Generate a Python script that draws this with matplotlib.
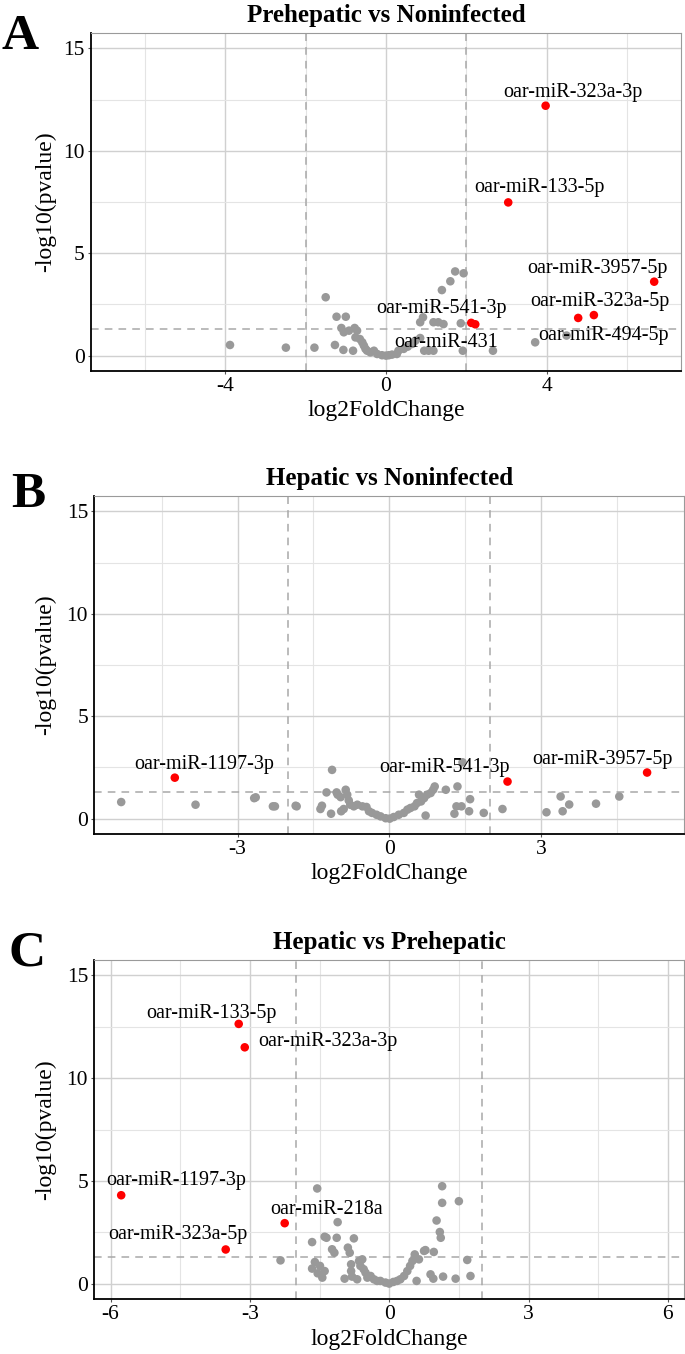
import matplotlib.pyplot as plt
from matplotlib.ticker import MultipleLocator

plt.rcParams['font.family'] = ['Liberation Serif', 'DejaVu Serif']

# ---- panel A: Prehepatic vs Noninfected ----
a_fc = [-3.88, -2.49, -1.78, -1.50, -1.27, -1.23, -1.00, -1.06, -1.11, -1.05,
        -0.92, -0.78, -0.72, -0.82, -0.76, -0.65, -0.59, -0.55, -0.51, -0.47,
        -0.39, -0.30, -0.22, -0.10, 0.00, 0.07, 0.15, 0.27, 0.31, 0.44,
        0.54, 0.65, 0.73, 0.85, 0.85, 0.92, 0.95, 1.06, 1.18, 1.18,
        1.30, 1.43, 1.39, 1.60, 1.72, 1.93, 1.86, 1.91, 2.66, 3.71, 4.49]
a_nlp = [0.52, 0.39, 0.39, 2.85, 0.52, 1.90, 1.90, 0.28, 1.35, 1.14,
         1.22, 1.35, 1.22, 0.24, 0.89, 0.81, 0.65, 0.49, 0.33, 0.24,
         0.16, 0.24, 0.08, 0.02, 0.00, 0.02, 0.05, 0.08, 0.24, 0.33,
         0.44, 0.57, 0.73, 0.86, 1.63, 1.87, 0.24, 0.24, 0.24, 1.63,
         1.63, 1.54, 3.20, 3.63, 4.11, 4.02, 1.58, 0.24, 0.24, 0.65, 0.98]
a_names = ['oar-miR-323a-3p', 'oar-miR-133-5p', 'oar-miR-3957-5p', 'oar-miR-323a-5p',
           'oar-miR-494-5p', 'oar-miR-541-3p', 'oar-miR-431']
a_sig_fc = [3.97, 3.04, 6.67, 5.17, 4.78, 2.12, 2.22]
a_sig_nlp = [12.20, 7.48, 3.61, 1.98, 1.84, 1.60, 1.53]
a_text_at = [(4.64, 12.83), (3.81, 8.20), (5.27, 4.24), (5.32, 2.63),
             (5.42, 0.98), (1.37, 2.29), (1.50, 0.63)]

# ---- panel B: Hepatic vs Noninfected ----
b_fc = [-5.30, -3.83, -2.64, -2.67, -2.30, -2.26, -1.85, -1.83, -1.36, -1.33,
        -1.24, -1.15, -1.13, -1.04, -1.02, -0.96, -0.86, -0.83, -0.95, -0.90,
        -0.80, -0.77, -0.70, -0.63, -0.53, -0.45, -0.40, -0.34, -0.25, -0.17,
        -0.07, 0.01, 0.09, 0.19, 0.29, 0.36, 0.42, 0.50, 0.55, 0.59,
        0.63, 0.69, 0.72, 0.75, 0.82, 0.87, 0.90, 1.12, 1.35, 1.29,
        1.33, 1.43, 1.45, 1.58, 1.60, 1.87, 2.24, 3.11, 3.39, 3.43,
        3.56, 4.09, 4.55]
b_nlp = [0.81, 0.68, 1.04, 1.00, 0.60, 0.60, 0.63, 0.60, 0.47, 0.63,
         1.28, 0.24, 2.38, 1.28, 1.17, 1.05, 1.41, 1.17, 0.36, 0.47,
         0.89, 0.68, 0.60, 0.68, 0.60, 0.57, 0.36, 0.28, 0.19, 0.11,
         0.02, 0.00, 0.08, 0.19, 0.28, 0.44, 0.52, 0.60, 0.76, 1.17,
         0.84, 1.00, 0.15, 1.17, 1.25, 1.41, 1.57, 1.41, 1.57, 0.24,
         0.60, 0.60, 2.75, 0.36, 0.95, 0.28, 0.47, 0.31, 1.08, 0.36,
         0.69, 0.73, 1.08]
b_names = ['oar-miR-1197-3p', 'oar-miR-541-3p', 'oar-miR-3957-5p']
b_sig_fc = [-4.24, 2.34, 5.10]
b_sig_nlp = [2.00, 1.81, 2.25]
b_text_at = [(-3.66, 2.62), (1.09, 2.48), (4.22, 2.91)]

# ---- panel C: Hepatic vs Prehepatic ----
c_fc = [-2.34, -1.55, -1.66, -1.66, -1.60, -1.54, -1.49, -1.44, -1.39, -1.39,
        -1.35, -1.23, -1.18, -1.13, -1.11, -0.96, -0.89, -0.85, -0.76, -0.82,
        -0.82, -0.80, -0.69, -0.65, -0.62, -0.58, -0.55, -0.51, -0.47, -0.40,
        -0.33, -0.26, -0.19, -0.08, 0.00, 0.09, 0.17, 0.24, 0.32, 0.39,
        0.45, 0.50, 0.55, 0.59, 0.64, 0.75, 0.78, 0.96, 0.89, 0.95,
        1.02, 1.09, 1.11, 1.14, 1.14, 1.16, 1.43, 1.50, 1.68, 1.75]
c_nlp = [1.13, 4.63, 2.02, 0.73, 1.05, 0.50, 0.86, 0.29, 0.61, 2.28,
         2.23, 1.67, 1.50, 2.23, 2.99, 0.24, 1.75, 1.50, 2.20, 0.94,
         0.61, 0.34, 0.21, 1.10, 0.86, 1.18, 0.70, 0.53, 0.29, 0.37,
         0.21, 0.13, 0.13, 0.05, 0.00, 0.08, 0.13, 0.21, 0.37, 0.61,
         0.86, 1.10, 1.42, 0.13, 1.18, 1.59, 1.63, 1.54, 0.45, 0.24,
         3.07, 2.51, 2.23, 4.74, 3.93, 0.34, 0.24, 4.01, 1.15, 0.37]
c_names = ['oar-miR-133-5p', 'oar-miR-323a-3p', 'oar-miR-1197-3p',
           'oar-miR-323a-5p', 'oar-miR-218a']
c_sig_fc = [-3.24, -3.11, -5.77, -3.52, -2.25]
c_sig_nlp = [12.64, 11.50, 4.30, 1.66, 2.94]
c_text_at = [(-3.83, 13.15), (-1.33, 11.78), (-4.58, 5.01), (-4.56, 2.39), (-1.35, 3.61)]

titles = ['Prehepatic vs Noninfected', 'Hepatic vs Noninfected', 'Hepatic vs Prehepatic']
letters = ['A', 'B', 'C']
x_steps = [4, 3, 3]

fc_cut = 2
p_cut = 1.30103  # -log10(0.05)


def draw_panel(ax, fc, nlp, names, sfc, snlp, text_at, title, xstep):
    all_fc = fc + sfc
    all_nlp = nlp + snlp
    cols = ['#ff0000' if abs(f) > fc_cut and p > p_cut else '#999999'
            for f, p in zip(all_fc, all_nlp)]

    # symmetric x range with 5% padding, as ggplot does
    m = max(abs(f) for f in all_fc) * 1.1
    ax.set_xlim(-m, m)
    ax.set_ylim(-0.75, 15.75)

    ax.xaxis.set_major_locator(MultipleLocator(xstep))
    ax.xaxis.set_minor_locator(MultipleLocator(xstep / 2))
    ax.yaxis.set_major_locator(MultipleLocator(5))
    ax.yaxis.set_minor_locator(MultipleLocator(2.5))
    ax.grid(True, which='major', color='#d0d0d0', lw=1.0)
    ax.grid(True, which='minor', color='#e4e4e4', lw=0.8)
    ax.set_axisbelow(True)

    ax.axvline(-fc_cut, color='#a8a8a8', ls=(0, (5, 4)), lw=1.1, zorder=1)
    ax.axvline(fc_cut, color='#a8a8a8', ls=(0, (5, 4)), lw=1.1, zorder=1)
    ax.axhline(p_cut, color='#a8a8a8', ls=(0, (5, 4)), lw=1.1, zorder=1)

    ax.scatter(all_fc, all_nlp, c=cols, s=38, linewidths=0, zorder=2)

    for name, (tx, ty) in zip(names, text_at):
        ax.text(tx, ty, name, ha='center', va='center', fontsize=14.5, zorder=3)

    for s in ['top', 'right']:
        ax.spines[s].set_color('#9a9a9a')
        ax.spines[s].set_linewidth(0.8)
    for s in ['left', 'bottom']:
        ax.spines[s].set_color('black')
        ax.spines[s].set_linewidth(1.3)

    ax.tick_params(which='major', length=2.5, width=0.8, color='#555555',
                   labelsize=15.5, pad=2)
    ax.tick_params(which='minor', length=0)

    ticks = [v for v in ax.get_xticks() if -m <= v <= m]
    ax.set_xticks(ticks)
    ax.set_xticklabels(['%g' % v for v in ticks])
    ax.set_yticks([0, 5, 10, 15])
    ax.set_yticklabels(['0', '5', '10', '15'])
    ax.set_xlim(-m, m)

    ax.text(0.5, 1.052, title, transform=ax.transAxes, ha='center', va='center',
            fontsize=18, fontweight='bold')
    ax.text(0.5, -0.118, 'log2FoldChange', transform=ax.transAxes, ha='center',
            va='center', fontsize=17)


fig = plt.figure(figsize=(6.85, 13.54), dpi=100)
W, H = 685.0, 1354.0
boxes = [(91, 33, 681, 371), (94.4, 496, 684, 834), (94.4, 960, 684, 1299)]
letter_at = [(20, 37), (28, 495), (27, 953)]

panels = [
    (a_fc, a_nlp, a_names, a_sig_fc, a_sig_nlp, a_text_at),
    (b_fc, b_nlp, b_names, b_sig_fc, b_sig_nlp, b_text_at),
    (c_fc, c_nlp, c_names, c_sig_fc, c_sig_nlp, c_text_at),
]

for i, (l, t, r, b) in enumerate(boxes):
    ax = fig.add_axes([l / W, 1 - b / H, (r - l) / W, (b - t) / H])
    fc, nlp, names, sfc, snlp, text_at = panels[i]
    draw_panel(ax, fc, nlp, names, sfc, snlp, text_at, titles[i], x_steps[i])
    fig.text(46 / W, 1 - (t + b) / 2 / H, '-log10(pvalue)', rotation=90,
             ha='center', va='center', fontsize=17)
    lx, ly = letter_at[i]
    fig.text(lx / W, 1 - ly / H, letters[i], ha='center', va='center',
             fontsize=37, fontweight='bold')

fig.savefig('out.png', dpi=100)
